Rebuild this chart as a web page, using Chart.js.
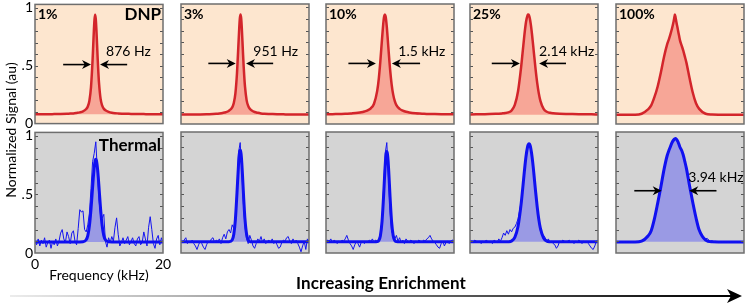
<!DOCTYPE html>
<html>
<head>
<meta charset="utf-8">
<script src="https://cdn.jsdelivr.net/npm/chart.js@4.4.0/dist/chart.umd.min.js"></script>
<style>
  html, body { margin: 0; padding: 0; background: #fff; }
  #wrap { position: relative; width: 747px; height: 305px; overflow: hidden; font-family: Lato, sans-serif; }
  #wrap canvas { position: absolute; }
  .lbl { position: absolute; white-space: nowrap; color: #000; }
</style>
</head>
<body>
<div id="wrap">
  <canvas id="enrichArrow" width="747" height="305" style="left:0;top:0"></canvas>
  <div class="lbl" style="left:10px;top:130px;font-size:14px;transform:translate(-50%,-50%) rotate(-90deg);">Normalized Signal (au)</div>
  <div class="lbl" style="left:381px;top:282px;font-size:17px;font-weight:bold;letter-spacing:0.1px;transform:translate(-50%,-50%);">Increasing Enrichment</div>
</div>
<script>
// frequency grids (kHz)
const freqFit = [0,1,2,3,4,5,5.5,6,6.5,7,7.5,8,8.25,8.5,8.75,9,9.1,9.2,9.3,9.4,9.5,9.6,9.7,9.8,9.9,10,10.25,10.5,10.75,11,11.5,12,12.5,13,14,15,16,17,18,19,20];
const freqRaw = [0,0.25,0.5,0.75,1,1.25,1.5,1.75,2,2.25,2.5,2.75,3,3.25,3.5,3.75,4,4.25,4.5,4.75,5,5.25,5.5,5.75,6,6.25,6.5,6.75,7,7.25,7.5,7.75,8,8.25,8.5,8.75,9,9.25,9.5,9.75,10,10.25,10.5,10.75,11,11.25,11.5,11.75,12,12.25,12.5,12.75,13,13.25,13.5,13.75,14,14.25,14.5,14.75,15,15.25,15.5,15.75,16,16.25,16.5,16.75,17,17.25,17.5,17.75,18,18.25,18.5,18.75,19,19.25,19.5,19.75,20];

const enrichment = ['1%', '3%', '10%', '25%', '100%'];

// DNP spectra (top row)
const dnp1 = [0.081,0.081,0.081,0.082,0.083,0.085,0.087,0.088,0.092,0.097,0.106,0.126,0.148,0.198,0.316,0.554,0.68,0.804,0.90,0.94,0.90,0.804,0.68,0.554,0.443,0.353,0.213,0.155,0.129,0.116,0.102,0.094,0.090,0.088,0.085,0.084,0.083,0.082,0.081,0.081,0.081];
const dnp3 = [0.081,0.081,0.082,0.082,0.083,0.086,0.088,0.091,0.095,0.101,0.114,0.143,0.180,0.263,0.438,0.711,0.823,0.908,0.94,0.908,0.823,0.711,0.593,0.486,0.394,0.320,0.205,0.155,0.130,0.118,0.103,0.096,0.091,0.088,0.086,0.084,0.083,0.082,0.082,0.081,0.081];
const dnp10 = [0.083,0.084,0.086,0.087,0.091,0.096,0.100,0.107,0.117,0.135,0.174,0.284,0.390,0.544,0.727,0.89,0.926,0.94,0.926,0.89,0.833,0.764,0.690,0.616,0.544,0.478,0.343,0.252,0.196,0.162,0.130,0.115,0.105,0.099,0.092,0.089,0.086,0.085,0.084,0.083,0.083];
const dnp25 = [0.082,0.083,0.084,0.085,0.087,0.091,0.094,0.100,0.116,0.164,0.279,0.495,0.630,0.764,0.875,0.935,0.94,0.935,0.918,0.890,0.855,0.813,0.764,0.711,0.657,0.602,0.469,0.353,0.263,0.199,0.130,0.105,0.096,0.092,0.088,0.086,0.085,0.084,0.083,0.083,0.082];
const dnp100 = [0.080,0.080,0.080,0.080,0.088,0.125,0.160,0.230,0.320,0.440,0.575,0.685,0.725,0.770,0.820,0.880,0.910,0.940,0.916,0.886,0.856,0.830,0.800,0.773,0.745,0.718,0.675,0.632,0.580,0.527,0.392,0.268,0.178,0.130,0.088,0.081,0.080,0.080,0.080,0.080,0.080];

// thermal spectra (bottom row): raw data and fits
const raw1 = [0.10,0.07,0.12,0.06,0.11,0.08,0.13,0.05,0.09,0.11,0.04,0.10,0.07,0.12,0.06,0.10,0.17,0.20,0.12,0.09,0.18,0.14,0.08,0.17,0.19,0.10,0.07,0.21,0.37,0.35,0.36,0.20,0.18,0.24,0.34,0.55,0.78,0.85,0.95,0.70,0.45,0.32,0.30,0.33,0.10,0.05,0.13,0.09,0.14,0.10,0.22,0.30,0.16,0.06,0.09,0.13,0.08,0.11,0.14,0.07,0.10,0.13,0.08,0.06,0.12,0.14,0.07,0.09,0.18,0.12,0.06,0.22,0.31,0.20,0.08,0.04,0.12,0.15,0.07,0.13,0.09];
const raw3 = [0.10,0.09,0.11,0.13,0.08,0.10,0.09,0.11,0.08,0.06,0.03,0.07,0.10,0.08,0.05,0.03,0.07,0.10,0.09,0.12,0.13,0.09,0.11,0.10,0.12,0.08,0.13,0.16,0.12,0.18,0.20,0.17,0.24,0.21,0.30,0.55,0.86,0.94,0.70,0.42,0.22,0.12,0.08,0.15,0.11,0.06,0.04,0.08,0.12,0.10,0.14,0.09,0.12,0.08,0.10,0.11,0.09,0.12,0.08,0.10,0.07,0.04,0.05,0.09,0.11,0.10,0.13,0.14,0.10,0.08,0.12,0.09,0.11,0.08,0.05,0.01,0.06,0.10,0.03,0.12,0.10];
const raw10 = [0.09,0.11,0.10,0.12,0.09,0.11,0.10,0.08,0.10,0.09,0.11,0.10,0.12,0.15,0.11,0.08,0.06,0.03,0.07,0.10,0.08,0.05,0.09,0.10,0.08,0.10,0.09,0.11,0.10,0.12,0.09,0.11,0.10,0.12,0.16,0.28,0.55,0.85,0.94,0.66,0.36,0.18,0.16,0.12,0.15,0.10,0.13,0.09,0.11,0.08,0.12,0.10,0.09,0.11,0.10,0.08,0.10,0.09,0.11,0.10,0.09,0.11,0.10,0.12,0.13,0.15,0.12,0.10,0.09,0.07,0.05,0.04,0.08,0.10,0.06,0.09,0.10,0.08,0.10,0.11,0.10];
const raw25 = [0.09,0.10,0.09,0.11,0.10,0.09,0.10,0.08,0.10,0.09,0.11,0.10,0.09,0.10,0.08,0.11,0.10,0.09,0.12,0.10,0.13,0.17,0.15,0.19,0.16,0.20,0.18,0.21,0.22,0.25,0.29,0.36,0.44,0.56,0.70,0.82,0.90,0.935,0.89,0.80,0.67,0.52,0.39,0.28,0.19,0.16,0.15,0.13,0.10,0.12,0.09,0.10,0.08,0.07,0.04,0.06,0.10,0.09,0.11,0.10,0.09,0.10,0.11,0.09,0.10,0.08,0.10,0.09,0.11,0.10,0.08,0.10,0.09,0.10,0.08,0.06,0.04,0.03,0.06,0.10,0.11];
const raw100 = [0.095,0.093,0.096,0.094,0.095,0.097,0.094,0.095,0.093,0.096,0.095,0.097,0.094,0.098,0.096,0.10,0.102,0.105,0.115,0.13,0.15,0.165,0.19,0.235,0.29,0.355,0.42,0.49,0.56,0.635,0.71,0.775,0.83,0.87,0.905,0.94,0.96,0.975,0.966,0.94,0.905,0.875,0.835,0.78,0.72,0.645,0.57,0.50,0.43,0.36,0.30,0.245,0.20,0.17,0.15,0.13,0.12,0.125,0.11,0.10,0.105,0.095,0.10,0.09,0.095,0.093,0.096,0.094,0.095,0.097,0.093,0.095,0.094,0.096,0.095,0.093,0.095,0.094,0.096,0.094,0.095];

const fit1 = [0.095,0.095,0.095,0.095,0.095,0.095,0.095,0.095,0.095,0.095,0.096,0.113,0.149,0.232,0.375,0.562,0.637,0.703,0.755,0.789,0.80,0.789,0.755,0.703,0.637,0.562,0.375,0.232,0.149,0.113,0.096,0.095,0.095,0.095,0.095,0.095,0.095,0.095,0.095,0.095,0.095];
const fit3 = [0.095,0.095,0.095,0.095,0.095,0.095,0.095,0.095,0.095,0.095,0.095,0.110,0.159,0.286,0.514,0.766,0.837,0.875,0.875,0.837,0.766,0.672,0.567,0.462,0.367,0.286,0.159,0.110,0.098,0.095,0.095,0.095,0.095,0.095,0.095,0.095,0.095,0.095,0.095,0.095,0.095];
const fit10 = [0.095,0.095,0.095,0.095,0.095,0.095,0.095,0.095,0.095,0.095,0.095,0.097,0.106,0.147,0.264,0.487,0.595,0.699,0.786,0.844,0.865,0.844,0.786,0.699,0.595,0.487,0.264,0.147,0.106,0.097,0.095,0.095,0.095,0.095,0.095,0.095,0.095,0.095,0.095,0.095,0.095];
const fit25 = [0.095,0.095,0.095,0.095,0.095,0.095,0.095,0.096,0.103,0.133,0.225,0.422,0.557,0.698,0.822,0.905,0.922,0.93,0.927,0.913,0.89,0.857,0.817,0.771,0.72,0.664,0.523,0.393,0.286,0.209,0.127,0.101,0.096,0.095,0.095,0.095,0.095,0.095,0.095,0.095,0.095];
const fit100 = [0.094,0.094,0.094,0.094,0.101,0.145,0.19,0.29,0.42,0.56,0.71,0.83,0.87,0.905,0.94,0.962,0.968,0.973,0.974,0.97,0.965,0.955,0.945,0.93,0.915,0.90,0.875,0.835,0.78,0.72,0.57,0.43,0.30,0.195,0.11,0.095,0.094,0.094,0.094,0.094,0.094];

const dnpSeries = [dnp1, dnp3, dnp10, dnp25, dnp100];
const rawSeries = [raw1, raw3, raw10, raw25, raw100];
const fitSeries = [fit1, fit3, fit10, fit25, fit100];

const yTicks = [0, 0.5, 1];
const yTickLabels = ['0', '.5', '1'];
const yMinor = [0.1, 0.2, 0.3, 0.4, 0.5, 0.6, 0.7, 0.8, 0.9, 1.0];
const xTicks = [0, 20];

// linewidth markers: [tail, tip, tip, tail] in kHz, arrow height, label pos
const dnpWidths = [
  { text: '876 Hz',   y: 0.51, ends: [4.4, 8.75, 10.16, 14.4], tx: 11.1, ty: 0.62 },
  { text: '951 Hz',   y: 0.52, ends: [4.27, 8.55, 10.16, 14.4], tx: 11.3, ty: 0.62 },
  { text: '1.5 kHz',  y: 0.52, ends: [3.5, 7.8, 10.3, 14.7], tx: 11.3, ty: 0.62 },
  { text: '2.14 kHz', y: 0.52, ends: [3.4, 7.8, 10.8, 15.0], tx: 10.8, ty: 0.62 },
  null
];
const thermalWidth = { text: '3.94 kHz', y: 0.53, ends: [2.86, 7.14, 11.45, 15.7], tx: 11.3, ty: 0.647 };

const colLeft = [35, 181, 326, 470, 616];
const rowTop = [4, 132];
const rowH = [120, 121];
const panelW = 128;

Chart.defaults.font.family = 'Lato';
Chart.defaults.color = '#000';

function xy(xs, ys) {
  return xs.map((x, i) => ({ x: x, y: ys[i] }));
}

function drawArrow(ctx, x0, x1, y) {
  const dir = Math.sign(x1 - x0), hl = 9, hw = 4.5;
  ctx.beginPath();
  ctx.moveTo(x0, y);
  ctx.lineTo(x1 - dir * hl * 0.6, y);
  ctx.stroke();
  ctx.beginPath();
  ctx.moveTo(x1, y);
  ctx.lineTo(x1 - dir * hl, y - hw);
  ctx.lineTo(x1 - dir * hl * 0.7, y);
  ctx.lineTo(x1 - dir * hl, y + hw);
  ctx.closePath();
  ctx.fill();
}

const panelDeco = {
  id: 'panelDeco',
  beforeDraw(chart, args, opts) {
    const { ctx, chartArea: a } = chart;
    ctx.save();
    ctx.fillStyle = opts.bg;
    ctx.fillRect(a.left, a.top, a.right - a.left, a.bottom - a.top);
    ctx.restore();
  },
  afterDraw(chart, args, opts) {
    const { ctx, chartArea: a, scales } = chart;
    const x = scales.x, y = scales.y;
    ctx.save();
    ctx.strokeStyle = '#555';
    ctx.lineWidth = 1;
    yMinor.forEach(v => {
      const py = Math.round(y.getPixelForValue(v)) + 0.5;
      ctx.beginPath();
      ctx.moveTo(a.left, py); ctx.lineTo(a.left + 3, py);
      ctx.moveTo(a.right, py); ctx.lineTo(a.right - 3, py);
      ctx.stroke();
    });
    ctx.strokeStyle = '#6e6e6e';
    ctx.lineWidth = 1.5;
    ctx.strokeRect(a.left, a.top, a.right - a.left, a.bottom - a.top);

    ctx.fillStyle = '#000';
    ctx.textBaseline = 'middle';
    if (opts.corner) {
      ctx.font = 'bold 14px Lato';
      ctx.textAlign = 'left';
      ctx.fillText(opts.corner, a.left + 3, a.top + 10);
    }
    if (opts.tag) {
      ctx.font = 'bold ' + opts.tagSize + 'px Lato';
      ctx.textAlign = 'right';
      ctx.fillText(opts.tag, a.right - 2, a.top + opts.tagDy);
    }
    const w = opts.width;
    if (w) {
      ctx.strokeStyle = '#000';
      ctx.lineWidth = 1.6;
      const py = y.getPixelForValue(w.y);
      const px = w.ends.map(v => x.getPixelForValue(v));
      drawArrow(ctx, px[0], px[1], py);
      drawArrow(ctx, px[3], px[2], py);
      ctx.font = '14px Lato';
      ctx.textAlign = 'left';
      ctx.fillText(w.text, x.getPixelForValue(w.tx), y.getPixelForValue(w.ty));
    }
    ctx.restore();
  }
};

const wrap = document.getElementById('wrap');

function addPanel(row, col, datasets, deco) {
  const L = colLeft[col], T = rowTop[row], H = rowH[row];
  const first = col === 0;
  const withX = row === 1 && col === 0;
  const m = {
    left: first ? L : 4,
    right: withX ? 20 : 4,
    top: first ? 10 : 4,
    bottom: withX ? 40 : (first ? 10 : 4)
  };
  const cv = document.createElement('canvas');
  cv.width = panelW + m.left + m.right;
  cv.height = H + m.top + m.bottom;
  cv.style.left = (L - m.left) + 'px';
  cv.style.top = (T - m.top) + 'px';
  wrap.appendChild(cv);

  new Chart(cv, {
    type: 'line',
    data: { datasets: datasets },
    options: {
      responsive: false,
      animation: false,
      devicePixelRatio: 1,
      events: [],
      layout: { padding: { left: first ? 0 : m.left, right: m.right, top: m.top, bottom: withX ? 0 : m.bottom } },
      scales: {
        x: {
          type: 'linear', min: 0, max: 20, display: withX,
          grid: { display: false, drawTicks: false }, border: { display: false },
          afterBuildTicks: s => { s.ticks = xTicks.map(v => ({ value: v })); },
          afterFit: s => { if (withX) s.height = 40; },
          ticks: { font: { size: 14 }, color: '#000', padding: 3, maxRotation: 0, autoSkip: false },
          title: { display: withX, text: 'Frequency (kHz)', font: { size: 14 }, color: '#000', padding: { top: 0, bottom: 9 } }
        },
        y: {
          type: 'linear', min: 0, max: 1.03, display: first,
          grid: { display: false, drawTicks: false }, border: { display: false },
          afterBuildTicks: s => { s.ticks = yTicks.map(v => ({ value: v })); },
          afterFit: s => { if (first) s.width = L; },
          ticks: { font: { size: 14 }, color: '#000', padding: 2, autoSkip: false,
                   callback: (v, i) => yTickLabels[i] }
        }
      },
      plugins: {
        legend: { display: false },
        tooltip: { enabled: false },
        panelDeco: deco
      }
    },
    plugins: [panelDeco]
  });
}

for (let c = 0; c < 5; c++) {
  addPanel(0, c, [{
    data: xy(freqFit, dnpSeries[c]),
    borderColor: '#d3252b', borderWidth: 2.5,
    backgroundColor: '#f7a697',
    fill: { value: 0.08 },
    pointRadius: 0, cubicInterpolationMode: 'monotone', borderJoinStyle: 'round'
  }], {
    bg: '#fde6cf', corner: enrichment[c],
    tag: c === 0 ? 'DNP' : null, tagSize: 17, tagDy: 10,
    width: dnpWidths[c]
  });
}

for (let c = 0; c < 5; c++) {
  addPanel(1, c, [{
    data: xy(freqRaw, rawSeries[c]),
    borderColor: '#1414f0', borderWidth: 1,
    fill: false, pointRadius: 0, tension: 0
  }, {
    data: xy(freqFit, fitSeries[c]),
    borderColor: '#0f0ff2', borderWidth: 3,
    backgroundColor: '#9a9ae4',
    fill: { value: 0.095 },
    pointRadius: 0, cubicInterpolationMode: 'monotone', borderJoinStyle: 'round'
  }], {
    bg: '#d4d4d4', corner: null,
    tag: c === 0 ? 'Thermal' : null, tagSize: 17, tagDy: 13,
    width: c === 4 ? thermalWidth : null
  });
}

// increasing enrichment arrow
const ac = document.getElementById('enrichArrow').getContext('2d');
const grad = ac.createLinearGradient(10, 0, 730, 0);
grad.addColorStop(0, '#ececec');
grad.addColorStop(1, '#000');
ac.strokeStyle = grad;
ac.lineWidth = 2;
ac.beginPath();
ac.moveTo(10, 296);
ac.lineTo(732, 296);
ac.stroke();
ac.fillStyle = '#000';
ac.beginPath();
ac.moveTo(742, 296);
ac.lineTo(727, 289);
ac.lineTo(731, 296);
ac.lineTo(727, 303);
ac.closePath();
ac.fill();
</script>
</body>
</html>
